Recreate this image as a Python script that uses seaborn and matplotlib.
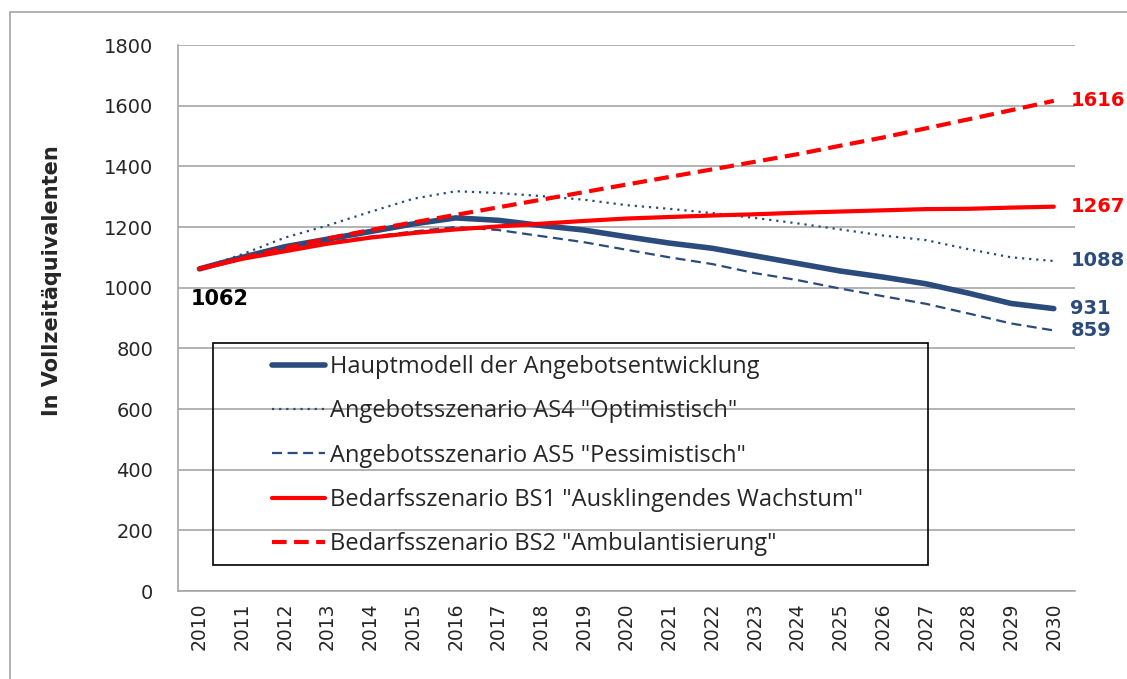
import numpy as np
import pandas as pd
import seaborn as sns
import matplotlib.pyplot as plt
from matplotlib.patches import Rectangle
from matplotlib.lines import Line2D

years = list(range(2010, 2031))
haupt = [1062, 1100, 1135, 1160, 1185, 1210, 1230, 1222, 1205, 1190, 1168,
         1147, 1130, 1105, 1080, 1055, 1035, 1013, 982, 948, 931]
as4 = [1062, 1110, 1165, 1205, 1250, 1293, 1318, 1312, 1302, 1290, 1272,
       1260, 1246, 1230, 1212, 1192, 1172, 1157, 1127, 1100, 1088]
as5 = [1062, 1095, 1125, 1150, 1168, 1185, 1200, 1190, 1170, 1150, 1125,
       1100, 1078, 1048, 1025, 997, 972, 947, 915, 882, 859]
bs1 = [1062, 1095, 1120, 1145, 1165, 1180, 1192, 1202, 1211, 1220, 1228,
       1233, 1238, 1242, 1247, 1251, 1255, 1259, 1260, 1264, 1267]
bs2 = [1062, 1097, 1130, 1162, 1190, 1215, 1240, 1265, 1290, 1315, 1340,
       1365, 1390, 1415, 1440, 1468, 1495, 1525, 1555, 1585, 1616]

labels = ['Hauptmodell der Angebotsentwicklung',
          'Angebotsszenario AS4 "Optimistisch"',
          'Angebotsszenario AS5 "Pessimistisch"',
          'Bedarfsszenario BS1 "Ausklingendes Wachstum"',
          'Bedarfsszenario BS2 "Ambulantisierung"']

navy = '#2A4B7C'
red = '#FF0000'
grey = '#A6A6A6'
styles = [
    (haupt, navy, 4.0, None),
    (as4, navy, 1.6, (1, 2.2)),
    (as5, navy, 1.6, (4.5, 2.5)),
    (bs1, red, 3.0, None),
    (bs2, red, 3.0, (3.5, 1.8)),
]

sns.set_style('white')
fig = plt.figure(figsize=(11.27, 6.79), dpi=100)
ax = fig.add_axes([0.158, 0.1296, 0.796, 0.8041])

x = np.arange(len(years))
for (vals, col, lw, dash), lab in zip(styles, labels):
    sns.lineplot(x=x, y=vals, ax=ax, color=col, linewidth=lw, label=lab)
    l = ax.lines[-1]
    if dash is not None:
        l.set_dashes(dash)
    l.set_solid_capstyle('round')

ax.set_xlim(-0.5, len(years) - 0.5)
ax.set_ylim(0, 1800)
ax.set_yticks(range(0, 1801, 200))
ax.yaxis.grid(True, color=grey, linewidth=1.2)
ax.set_axisbelow(True)
ax.set_xticks(x)
ax.set_xticklabels([str(y) for y in years], rotation=90, fontsize=13.5)
ax.set_xticks(np.arange(-0.5, len(years), 1), minor=True)
ax.tick_params(axis='x', which='major', length=0, pad=8)
ax.tick_params(axis='x', which='minor', length=6, color=grey, width=1.2)
ax.tick_params(axis='y', length=6, color=grey, width=1.2, labelsize=14, pad=12)
for s in ['top', 'right']:
    ax.spines[s].set_visible(False)
for s in ['left', 'bottom']:
    ax.spines[s].set_color(grey)
    ax.spines[s].set_linewidth(1.2)

ax.set_ylabel('In Vollzeitäquivalenten', fontsize=15, fontweight='bold')
ax.yaxis.set_label_coords(-0.129, 0.568)

end_labels = [(bs2, red), (bs1, red), (as4, navy), (haupt, navy), (as5, navy)]
for vals, col in end_labels:
    ax.annotate(str(vals[-1]), xy=(x[-1], vals[-1]), xytext=(12, 0),
                textcoords='offset points', color=col, fontsize=14,
                fontweight='bold', va='center', ha='left', annotation_clip=False)
ax.annotate(str(haupt[0]), xy=(x[0], haupt[0]), xytext=(-6, -22),
            textcoords='offset points', color='black', fontsize=15,
            fontweight='bold', va='center', ha='left')

leg = ax.legend(loc='upper left', bbox_to_anchor=(0.1048, 0.432),
                borderaxespad=0, borderpad=0, frameon=False,
                handlelength=2.25, handletextpad=0.22, labelspacing=0.86,
                prop={'family': 'Open Sans', 'size': 17})
ax.add_patch(Rectangle((0.039, 0.048), 0.797, 0.406, transform=ax.transAxes,
                       fill=False, edgecolor='black', linewidth=1.2, zorder=5))

fig.add_artist(Line2D([0.009, 0.009], [0, 0.983], transform=fig.transFigure,
                      color=grey, linewidth=1.2))
fig.add_artist(Line2D([0.009, 1.0], [0.983, 0.983], transform=fig.transFigure,
                      color=grey, linewidth=1.2))

plt.savefig('out.png', dpi=100)
plt.close()
